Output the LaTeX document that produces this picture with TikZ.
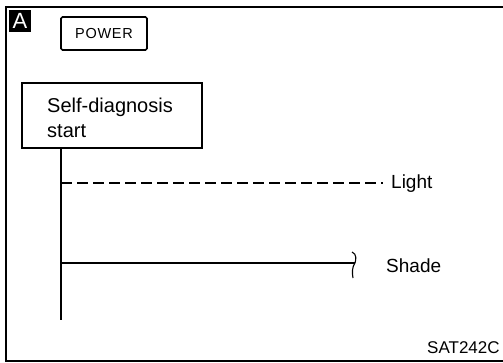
\documentclass[tikz,border=0pt]{standalone}
\usepackage{fontspec}
\setmainfont{Liberation Sans}
\begin{document}
\begin{tikzpicture}[x=1pt,y=-1pt,
  frame/.style={line width=2pt},
  boxline/.style={draw,line width=1.7pt},
  wire/.style={line width=1.7pt},
  lbl/.style={inner sep=0pt,anchor=base west}]
\useasboundingbox (0,0) rectangle (503,362);
% outer frame
\draw[frame] (503,7) -- (6,7) -- (6,361) -- (503,361);
% A tag
\node[fill=black,minimum width=22pt,minimum height=22pt,inner sep=0pt,
      text=white,font=\fontsize{22}{22}\selectfont] (tagA) at (20,21) {A};
% POWER box
\node[boxline,rounded corners=1.5pt,minimum width=86pt,minimum height=33pt,inner sep=0pt,
      font=\fontsize{14.5}{14.5}\selectfont] (power) at (104,33.5) {\addfontfeature{LetterSpace=5}POWER};
% Self-diagnosis box
\node[boxline,minimum width=180pt,minimum height=65pt,inner sep=0pt] (self) at (112,115.5) {};
\node[lbl,font=\fontsize{20}{20}\selectfont] (t1) at (47,112) {Self-diagnosis};
\node[lbl,font=\fontsize{20}{20}\selectfont] (t2) at (47,137) {start};
% trunk
\coordinate (top) at (61,148);
\coordinate (bot) at (61,320);
\coordinate (lj) at (61,183);
\coordinate (le) at (383,183);
\coordinate (sj) at (61,263);
\coordinate (se) at (355,263);
\draw[wire] (top) -- (bot);
\draw[line width=1.4pt,dash pattern=on 11pt off 5pt] (lj) -- (le);
\draw[wire] (sj) -- (se);
\draw[line width=1.1pt] (352,252) .. controls (357,254) and (356,260) .. (se)
  .. controls (352,267) and (352,273) .. (353,278);
% labels
\node[lbl,font=\fontsize{19}{19}\selectfont] (light) at (391,188) {Light};
\node[lbl,font=\fontsize{19}{19}\selectfont] (shade) at (386,272) {Shade};
\node[lbl,font=\fontsize{17}{17}\selectfont] (code) at (427,353) {SAT242C};
\end{tikzpicture}
\end{document}
